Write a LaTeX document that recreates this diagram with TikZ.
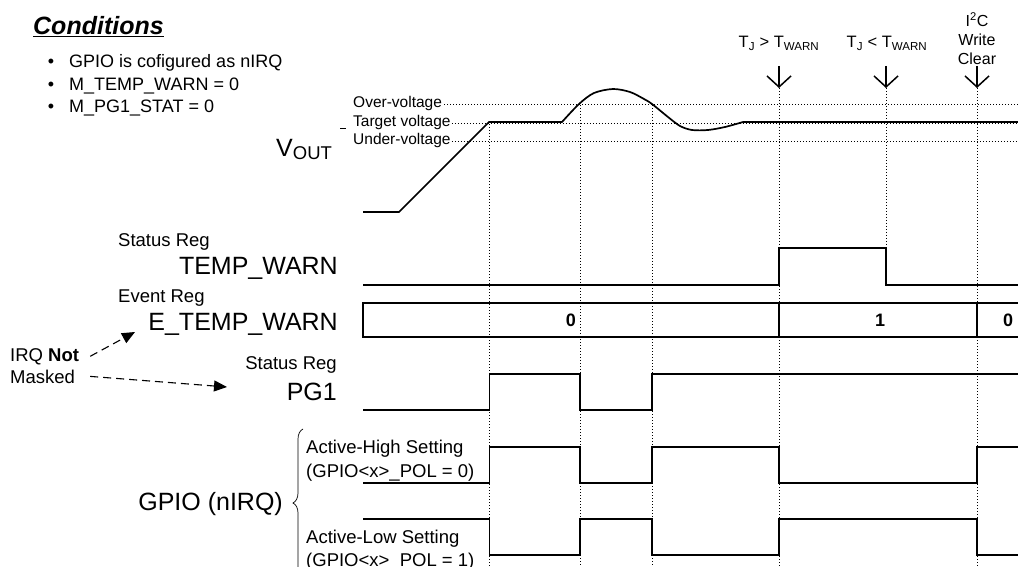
\documentclass[tikz,border=0pt]{standalone}
\usepackage{fontspec}
\setmainfont{Liberation Sans}
\usetikzlibrary{arrows.meta,decorations.pathreplacing}

\begin{document}
\begin{tikzpicture}[x=1pt,y=-1pt,
    biglbl/.style={font=\fontsize{25}{25}\selectfont, inner sep=0pt},
    lbl/.style={font=\fontsize{18.5}{18.5}\selectfont, inner sep=0pt},
    evlbl/.style={font=\fontsize{16.5}{16.5}\selectfont, inner sep=0pt, anchor=base},
    lvl/.style={font=\fontsize{15.5}{15.5}\selectfont, inner sep=0pt, anchor=base west},
    val/.style={font=\fontsize{18}{18}\selectfont\bfseries, inner sep=0pt},
    sig/.style={line width=1.7pt, line join=miter},
    guide/.style={line width=0.9pt, dash pattern=on 0.9pt off 2.1pt},
    evarrow/.style={line width=1.5pt, -{Straight Barb[length=11pt,width=24pt]}},
    irqarrow/.style={line width=1.1pt, dash pattern=on 8pt off 5pt,
      -{Triangle[length=13pt,width=11pt]}}
  ]
  \useasboundingbox (0,0) rectangle (1018,567);
  \clip (0,0) rectangle (1018,567);
  \coordinate (rgt) at (1018,0);

  % conditions
  \node[font=\fontsize{25}{25}\selectfont\bfseries\itshape, inner sep=0pt,
    anchor=base west] (cond) at (33,35) {\underline{Conditions}};
  \foreach \yy/\t [count=\i] in {68/GPIO is cofigured as nIRQ,
      90.5/M\_TEMP\_WARN = 0, 113/M\_PG1\_STAT = 0} {
    \node[lbl, font=\fontsize{18}{18}\selectfont, anchor=base] (bul\i) at (51,\yy) {\textbullet};
    \node[lbl, font=\fontsize{18}{18}\selectfont, anchor=base west] (cnd\i) at (69,\yy) {\t};
  }

  % output voltage
  \node[biglbl, anchor=base west] (vout) at (276,157)
    {V{\fontsize{18.5}{18.5}\selectfont\raisebox{-2.5pt}{OUT}}};
  \node[lvl] (ovl) at (353,108) {Over-voltage};
  \node[lvl] (tgt) at (353,127) {Target voltage};
  \node[lvl] (uvl) at (353,145) {Under-voltage};
  \draw[line width=0.8pt] (340,128) -- (346,128);
  \draw[guide] ([xshift=2pt]ovl.east) -- (ovl.east -| rgt);
  \draw[guide] ([xshift=1pt]tgt.east) -- (tgt.east -| rgt);
  \draw[guide] ([xshift=1pt]uvl.east) -- (uvl.east -| rgt);

  % events
  \node[evlbl] (tjup) at (779,48) {T\textsubscript{J} > T\textsubscript{WARN}};
  \node[evlbl] (tjdn) at (887,48) {T\textsubscript{J} < T\textsubscript{WARN}};
  \node[evlbl, font=\fontsize{16}{16}\selectfont] (i2c) at (977,27) {I\textsuperscript{2}C};
  \node[evlbl, font=\fontsize{16}{16}\selectfont] (wrt) at (977,46) {Write};
  \node[evlbl, font=\fontsize{16}{16}\selectfont] (clr) at (977,65) {Clear};
  \foreach \n/\x in {a/779, b/886, c/977} {
    \coordinate (ev\n top) at (\x,66);
    \coordinate (ev\n) at (\x,88);
    \draw[evarrow] (ev\n top) -- (ev\n);
  }

  % time markers
  \draw[guide] (489.5,124) -- (489.5,567);
  \draw[guide] (580,105) -- (580,567);
  \draw[guide] (652,105) -- (652,567);
  \draw[guide] (eva) -- (779,567);
  \draw[guide] (evb) -- (886,248);
  \draw[guide] (evc) -- (977,567);

  \draw[sig] (363,212) -- (399,212) -- (489,122) -- plot[smooth, tension=0.5]
    coordinates {(562,122) (579,104) (594,93) (613,89) (630,92) (644,99)
      (652,104) (668,117) (680,126) (692,130) (708,130) (725,127) (743,122)}
    -- (1022,122);

  % registers
  \node[lbl, anchor=base west] (st1) at (118,246) {Status Reg};
  \node[biglbl, anchor=base east] (tw) at (338,274) {TEMP\_WARN};
  \node[lbl, anchor=base west] (evr) at (118,302) {Event Reg};
  \node[biglbl, anchor=base east] (etw) at (338,330) {E\_TEMP\_WARN};
  \node[lbl, anchor=base east] (st2) at (337,369) {Status Reg};
  \node[biglbl, anchor=base east] (pg) at (337,400) {PG1};

  \draw[sig] (363,285) -- (779,285) -- (779,248) -- (886,248) -- (886,285) -- (1022,285);
  \draw[sig] (1022,303) -- (363,303) -- (363,337) -- (1022,337);
  \draw[sig] (779,303) -- (779,337);
  \draw[sig] (977,303) -- (977,337);
  \node[val] (v0) at (571,320) {0};
  \node[val] (v1) at (880,320) {1};
  \node[val] (v2) at (1008,320) {0};

  \draw[sig] (363,410) -- (489.5,410) -- (489.5,374) -- (580,374) -- (580,410)
    -- (652,410) -- (652,374) -- (1022,374);

  % irq not masked
  \node[lbl, anchor=base west] (irq) at (10,361) {IRQ \textbf{Not}};
  \node[lbl, anchor=base west] (msk) at (10,383) {Masked};
  \coordinate (etwtip) at (135,332);
  \coordinate (pgtip) at (227,387);
  \draw[irqarrow] ([xshift=11pt]irq.east) -- (etwtip);
  \draw[irqarrow] ([xshift=15pt]msk.east) -- (pgtip);

  % gpio
  \node[biglbl, anchor=base east] (gpio) at (283,510) {GPIO (nIRQ)};
  \draw[line width=0.7pt, decorate, decoration={brace, amplitude=10pt}]
    (303,577) -- (303,429);
  \node[lbl, anchor=base west] (ahi) at (306,453) {Active-High Setting};
  \node[lbl, anchor=base west] (ahp) at (306,477) {(GPIO<x>\_POL = 0)};
  \node[lbl, anchor=base west] (alo) at (306,543) {Active-Low Setting};
  \node[lbl, anchor=base west] (alp) at (306,566) {(GPIO<x>\_POL = 1)};

  \draw[sig] (363,483) -- (489.5,483) -- (489.5,447) -- (580,447) -- (580,483)
    -- (652,483) -- (652,447) -- (779,447) -- (779,483) -- (977,483)
    -- (977,447) -- (1022,447);
  \draw[sig] (363,519) -- (489.5,519) -- (489.5,555) -- (580,555) -- (580,519)
    -- (652,519) -- (652,555) -- (779,555) -- (779,519) -- (977,519)
    -- (977,555) -- (1022,555);
\end{tikzpicture}
\end{document}
